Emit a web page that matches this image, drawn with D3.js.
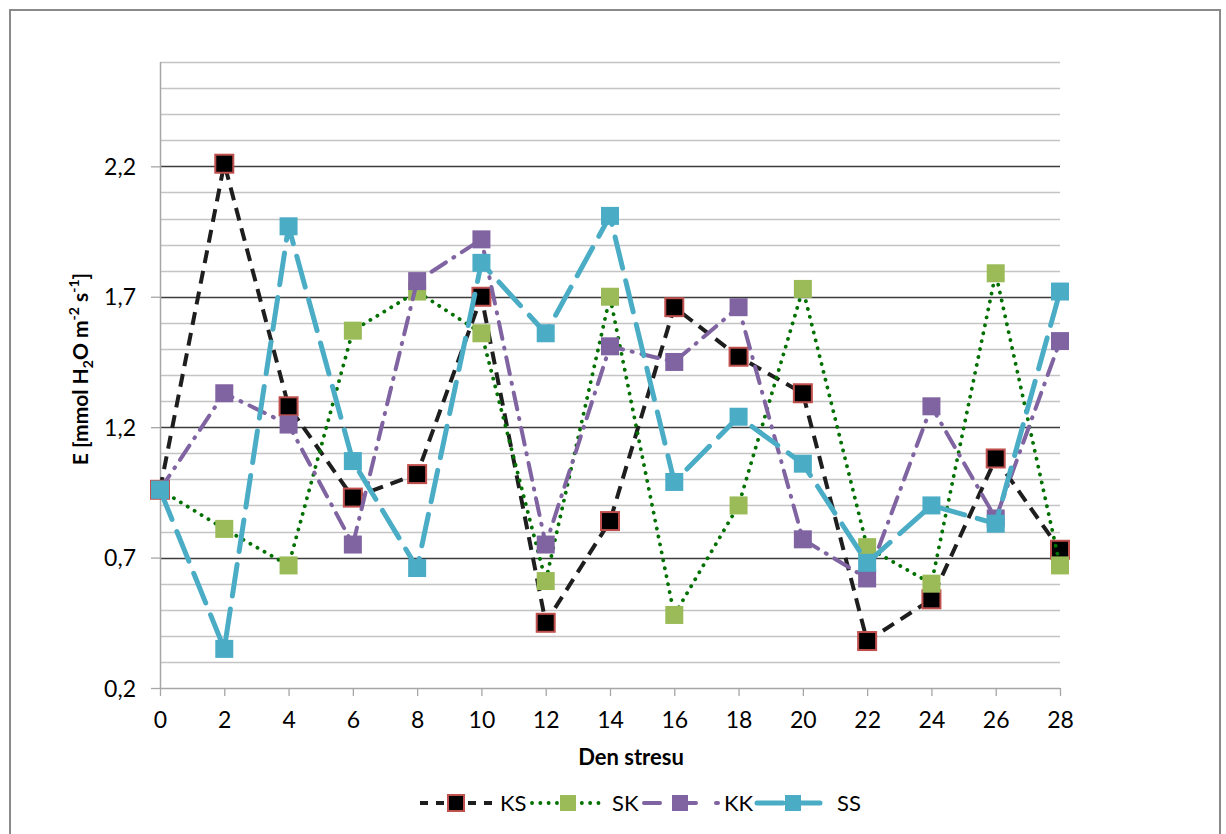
<!DOCTYPE html>
<html>
<head>
<meta charset="utf-8">
<script src="https://cdn.jsdelivr.net/npm/d3@7"></script>
<style>
  html, body { margin: 0; padding: 0; background: #fff; }
  svg { display: block; }
  text { font-family: Lato, "Open Sans", sans-serif; fill: #000; }
</style>
</head>
<body>
<svg id="chart" width="1226" height="834"></svg>
<script>
// ---- data ----
const days = [0, 2, 4, 6, 8, 10, 12, 14, 16, 18, 20, 22, 24, 26, 28];
const seriesNames = ["KS", "SK", "KK", "SS"];
const KS = [0.96, 2.21, 1.28, 0.93, 1.02, 1.70, 0.45, 0.84, 1.66, 1.47, 1.33, 0.38, 0.54, 1.08, 0.73];
const SK = [0.96, 0.81, 0.67, 1.57, 1.72, 1.56, 0.61, 1.70, 0.48, 0.90, 1.73, 0.74, 0.60, 1.79, 0.67];
const KK = [0.96, 1.33, 1.21, 0.75, 1.76, 1.92, 0.75, 1.51, 1.45, 1.66, 0.77, 0.62, 1.28, 0.85, 1.53];
const SS = [0.96, 0.35, 1.97, 1.07, 0.66, 1.83, 1.56, 2.01, 0.99, 1.24, 1.06, 0.68, 0.90, 0.83, 1.72];
const yMajorTicks = [0.2, 0.7, 1.2, 1.7, 2.2];
const yMinorTicks = d3.range(3, 27).map(d => d / 10);   // 0.3 ... 2.6
const xTitle = "Den stresu";

// ---- styles ----
const styles = {
  KS: { line: "#1e1e1e", width: 4, dash: "13 8", cap: "butt", fill: "#000", stroke: "#c0504d" },
  SK: { line: "#007000", width: 3.8, dash: "0.1 8", cap: "round", fill: "#9bbb59", stroke: "none" },
  KK: { line: "#8064a2", width: 4, dash: "17 9 1 9", cap: "round", fill: "#8064a2", stroke: "none" },
  SS: { line: "#4bacc6", width: 5, dash: "32 13", cap: "round", fill: "#4bacc6", stroke: "none" }
};
const dataBy = { KS, SK, KK, SS };

const svg = d3.select("#chart");
const pLeft = 160, pRight = 1060, pTop = 62, pBottom = 688;

const x = d3.scaleLinear().domain([0, 28]).range([pLeft, pRight]);
const y = d3.scaleLinear().domain([0.2, 2.6]).range([pBottom, pTop]);

// outer frame
svg.append("rect").attr("x", 10).attr("y", 10).attr("width", 1210).attr("height", 840)
  .attr("fill", "#fff").attr("stroke", "#8a8a8a").attr("stroke-width", 2);

// minor gridlines
svg.append("g").selectAll("line").data(yMinorTicks.filter(v => !yMajorTicks.some(m => Math.abs(m - v) < 1e-9)))
  .join("line")
  .attr("x1", pLeft).attr("x2", pRight)
  .attr("y1", d => Math.round(y(d)) + 0.5).attr("y2", d => Math.round(y(d)) + 0.5)
  .attr("stroke", "#c4c4c4").attr("stroke-width", 1.3);

// major gridlines
svg.append("g").selectAll("line").data(yMajorTicks.filter(v => v > 0.2))
  .join("line")
  .attr("x1", pLeft).attr("x2", pRight)
  .attr("y1", d => Math.round(y(d)) + 0.5).attr("y2", d => Math.round(y(d)) + 0.5)
  .attr("stroke", "#3c3c3c").attr("stroke-width", 1.3);

// y axis
const yAxis = d3.axisLeft(y).tickValues(yMajorTicks).tickSize(9).tickPadding(15)
  .tickFormat(d => d3.format(".1f")(d).replace(".", ","));
const gy = svg.append("g").attr("transform", `translate(${pLeft},0)`).call(yAxis);
gy.select(".domain").attr("stroke", "#a6a6a6").attr("stroke-width", 1.5).attr("d", `M0.5,${pTop}V${pBottom}`);
gy.selectAll(".tick line").attr("stroke", "#a6a6a6").attr("stroke-width", 1.3);
gy.selectAll(".tick text").attr("font-size", 23).attr("font-family", "Lato, sans-serif").attr("fill", "#000").attr("dy", "0.35em");

// x axis
const xAxis = d3.axisBottom(x).tickValues(days).tickSize(8).tickPadding(16).tickFormat(d3.format("d"));
const gx = svg.append("g").attr("transform", `translate(0,${pBottom})`).call(xAxis);
gx.select(".domain").attr("stroke", "#a6a6a6").attr("stroke-width", 1.5).attr("d", `M${pLeft},0.5H${pRight}`);
gx.selectAll(".tick line").attr("stroke", "#a6a6a6").attr("stroke-width", 1.3);
gx.selectAll(".tick text").attr("font-size", 23).attr("font-family", "Lato, sans-serif").attr("fill", "#000");

// axis titles
svg.append("text").attr("x", 631).attr("y", 765).attr("text-anchor", "middle")
  .attr("font-size", 22).attr("font-weight", "bold").text(xTitle);

const yt = svg.append("text").attr("transform", `translate(88,${(pTop + pBottom) / 2 - 6}) rotate(-90)`)
  .attr("text-anchor", "middle").attr("font-size", 21).attr("font-weight", "bold");
yt.append("tspan").text("E [mmol H");
yt.append("tspan").attr("font-size", 14).attr("dy", 5).text("2");
yt.append("tspan").attr("dy", -5).text("O m");
yt.append("tspan").attr("font-size", 14).attr("dy", -9).text("-2");
yt.append("tspan").attr("dy", 9).text(" s");
yt.append("tspan").attr("font-size", 14).attr("dy", -9).text("-1");
yt.append("tspan").attr("dy", 9).text("]");

// series
const line = d3.line().x((d, i) => x(days[i])).y(d => y(d));
const ms = 18;
seriesNames.forEach(name => {
  const st = styles[name];
  const g = svg.append("g");
  g.append("path").datum(dataBy[name]).attr("d", line)
    .attr("fill", "none").attr("stroke", st.line).attr("stroke-width", st.width)
    .attr("stroke-dasharray", st.dash).attr("stroke-linecap", st.cap).attr("stroke-linejoin", "round");
  g.selectAll("rect").data(dataBy[name]).join("rect")
    .attr("x", (d, i) => x(days[i]) - ms / 2).attr("y", d => y(d) - ms / 2)
    .attr("width", ms).attr("height", ms)
    .attr("fill", st.fill)
    .attr("stroke", st.stroke).attr("stroke-width", st.stroke === "none" ? 0 : 2);
});

// legend
const legendItems = [
  { name: "KS", x0: 420 },
  { name: "SK", x0: 532 },
  { name: "KK", x0: 644 },
  { name: "SS", x0: 757 }
];
const ly = 803;
legendItems.forEach(it => {
  const st = styles[it.name];
  const g = svg.append("g");
  g.append("line").attr("x1", it.x0).attr("x2", it.x0 + 74).attr("y1", ly).attr("y2", ly)
    .attr("stroke", st.line).attr("stroke-width", st.width)
    .attr("stroke-dasharray", it.name === "KS" ? "8 8" : it.name === "SK" ? "0.1 8.2" : it.name === "KK" ? "16 20" : "26 11")
    .attr("stroke-linecap", st.cap);
  g.append("rect").attr("x", it.x0 + 37 - ms / 2).attr("y", ly - ms / 2 + 1)
    .attr("width", ms - 2).attr("height", ms - 2)
    .attr("fill", st.fill).attr("stroke", st.stroke).attr("stroke-width", st.stroke === "none" ? 0 : 2);
  g.append("text").attr("x", it.x0 + 80).attr("y", ly).attr("dy", "0.36em")
    .attr("font-size", 22).text(it.name);
});
</script>
</body>
</html>
